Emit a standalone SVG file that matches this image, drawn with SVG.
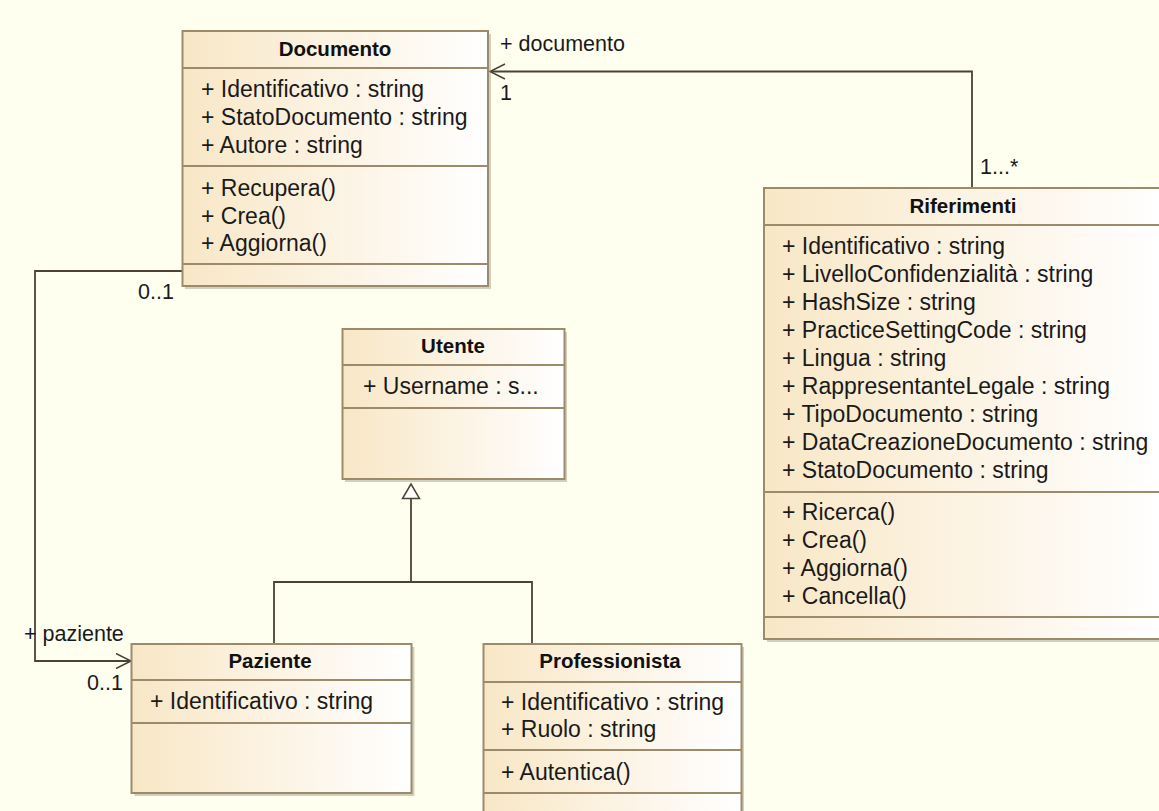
<svg xmlns="http://www.w3.org/2000/svg" width="1159" height="811" viewBox="0 0 1159 811">
<defs>
<linearGradient id="fill" x1="0" y1="0" x2="1" y2="0">
<stop offset="0" stop-color="#F8E7C6"/>
<stop offset="1" stop-color="#FFFFFF"/>
</linearGradient>
<marker id="open" markerWidth="20" markerHeight="20" refX="16" refY="8" orient="auto" markerUnits="userSpaceOnUse">
<path d="M1,0.5 L16,8 L1,15.5" fill="none" stroke="#4A4336" stroke-width="1.5"/>
</marker>
</defs>
<style>
.bg{fill:#FFFFF0}
.box{fill:url(#fill);stroke:#9C8B6B;stroke-width:2}
.shadow{fill:#9C9583;opacity:0.45}
.sep{stroke:#9C8B6B;stroke-width:2}
.hd{font-family:"Liberation Sans",Arial,sans-serif;font-weight:bold;font-size:20.5px;fill:#111;text-anchor:middle}
.tx{font-family:"Liberation Sans",Arial,sans-serif;font-size:23px;fill:#1A1A1A}
.lbl{font-family:"Liberation Sans",Arial,sans-serif;font-size:21.5px;fill:#1A1A1A}
.conn{fill:none;stroke:#4A4336;stroke-width:1.8}
</style>
<rect class="bg" x="0" y="0" width="1159" height="811"/>

<g id="connectors">
<path class="conn" d="M972,188 L972,71.5 L490,71.5" marker-end="url(#open)"/>
<path class="conn" d="M182,271 L35,271 L35,661 L131,661" marker-end="url(#open)"/>
<path class="conn" d="M411,582 L411,498"/>
<path d="M411,484 L402.5,498.5 L419.5,498.5 Z" fill="#FFFFFF" stroke="#4A4336" stroke-width="1.5"/>
<path class="conn" d="M274,644 L274,582 L532,582 L532,644"/>
<text class="lbl" x="500" y="51">+ documento</text>
<text class="lbl" x="500" y="100">1</text>
<text class="lbl" x="980" y="174">1...*</text>
<text class="lbl" x="138" y="299">0..1</text>
<text class="lbl" x="24" y="641">+ paziente</text>
<text class="lbl" x="87" y="690">0..1</text>
</g>

<g id="Documento">
<rect class="shadow" x="185" y="34" width="306" height="255"/>
<rect class="box" x="182.5" y="31" width="305.5" height="255"/>
<line class="sep" x1="182.5" y1="68" x2="488" y2="68"/>
<line class="sep" x1="182.5" y1="166" x2="488" y2="166"/>
<line class="sep" x1="182.5" y1="264" x2="488" y2="264"/>
<text class="hd" x="335" y="56">Documento</text>
<text class="tx" x="201" y="97">+ Identificativo : string</text>
<text class="tx" x="201" y="125">+ StatoDocumento : string</text>
<text class="tx" x="201" y="152.5">+ Autore : string</text>
<text class="tx" x="201" y="196">+ Recupera()</text>
<text class="tx" x="201" y="223.5">+ Crea()</text>
<text class="tx" x="201" y="251">+ Aggiorna()</text>
</g>

<g id="Riferimenti">
<rect class="shadow" x="767" y="191" width="400" height="451"/>
<rect class="box" x="764" y="188" width="400" height="451"/>
<line class="sep" x1="764" y1="225" x2="1164" y2="225"/>
<line class="sep" x1="764" y1="492" x2="1164" y2="492"/>
<line class="sep" x1="764" y1="617" x2="1164" y2="617"/>
<text class="hd" x="963" y="213">Riferimenti</text>
<text class="tx" x="782" y="254">+ Identificativo : string</text>
<text class="tx" x="782" y="282">+ LivelloConfidenzialità : string</text>
<text class="tx" x="782" y="310">+ HashSize : string</text>
<text class="tx" x="782" y="338">+ PracticeSettingCode : string</text>
<text class="tx" x="782" y="366">+ Lingua : string</text>
<text class="tx" x="782" y="394">+ RappresentanteLegale : string</text>
<text class="tx" x="782" y="422">+ TipoDocumento : string</text>
<text class="tx" x="782" y="450">+ DataCreazioneDocumento : string</text>
<text class="tx" x="782" y="478">+ StatoDocumento : string</text>
<text class="tx" x="782" y="520">+ Ricerca()</text>
<text class="tx" x="782" y="548">+ Crea()</text>
<text class="tx" x="782" y="576">+ Aggiorna()</text>
<text class="tx" x="782" y="604">+ Cancella()</text>
</g>

<g id="Utente">
<rect class="shadow" x="345" y="332" width="222" height="150"/>
<rect class="box" x="342.5" y="329" width="222" height="150"/>
<line class="sep" x1="342.5" y1="365" x2="564.5" y2="365"/>
<line class="sep" x1="342.5" y1="408" x2="564.5" y2="408"/>
<text class="hd" x="453" y="353">Utente</text>
<text class="tx" x="363" y="394">+ Username : s...</text>
</g>

<g id="Paziente">
<rect class="shadow" x="134.5" y="647" width="280" height="149"/>
<rect class="box" x="131.5" y="644" width="280" height="149"/>
<line class="sep" x1="131.5" y1="680" x2="411.5" y2="680"/>
<line class="sep" x1="131.5" y1="723" x2="411.5" y2="723"/>
<text class="hd" x="270" y="668">Paziente</text>
<text class="tx" x="150" y="708.5">+ Identificativo : string</text>
</g>

<g id="Professionista">
<rect class="shadow" x="486" y="647" width="258" height="180"/>
<rect class="box" x="483.5" y="644" width="258" height="180"/>
<line class="sep" x1="483.5" y1="682" x2="741.5" y2="682"/>
<line class="sep" x1="483.5" y1="750" x2="741.5" y2="750"/>
<line class="sep" x1="483.5" y1="793" x2="741.5" y2="793"/>
<text class="hd" x="610" y="668">Professionista</text>
<text class="tx" x="501" y="710">+ Identificativo : string</text>
<text class="tx" x="501" y="737">+ Ruolo : string</text>
<text class="tx" x="501" y="780">+ Autentica()</text>
</g>
</svg>
